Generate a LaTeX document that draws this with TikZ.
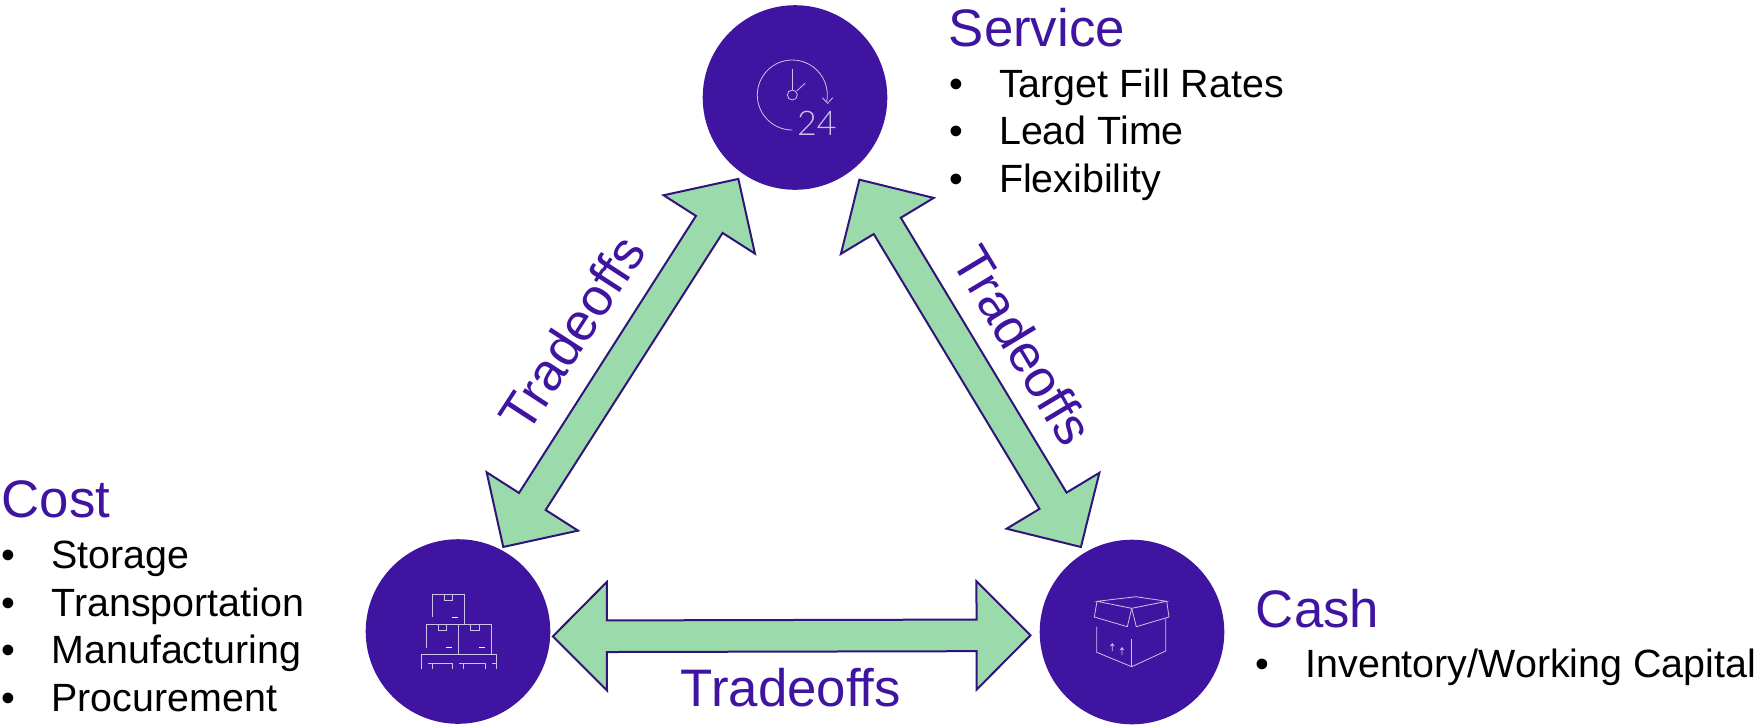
\documentclass[tikz,border=0pt]{standalone}
\usepackage{fontspec}
\setmainfont{Liberation Sans}
\newfontfamily\iconfont{Lato Light}
\usetikzlibrary{calc}
\definecolor{triadPurple}{RGB}{63, 20, 160}
\definecolor{triadEdge}{RGB}{48, 20, 122}
\definecolor{triadGreen}{RGB}{155, 219, 171}
\definecolor{iconLine}{RGB}{205, 195, 232}

\begin{document}
\begin{tikzpicture}[
                x=1pt, y=-1pt,
                disc/.style={circle, fill=triadPurple, minimum size=184.6pt, inner sep=0pt},
                head/.style={anchor=base west, inner sep=0pt, text=triadPurple, font=\fontsize{52.8}{60}\selectfont},
                items/.style={anchor=base west, inner sep=0pt, align=left, font=\fontsize{39.4}{47.5}\selectfont},
                tradelabel/.style={inner sep=0pt, text=triadPurple, font=\fontsize{52.8}{60}\selectfont},
                iconpen/.style={draw=iconLine, line width=0.8pt},
                tradeoff/.style 2 args={draw=triadEdge, fill=triadGreen, line width=2pt, line join=miter,
                    to path={
                        ($(\tikztostart)!#1!(\tikztotarget)$) coordinate (tipa)
                        ($(\tikztotarget)!#2!(\tikztostart)$) coordinate (tipb)
                        ($(tipa)!54pt!(tipb)$) coordinate (basea)
                        ($(tipb)!54pt!(tipa)$) coordinate (baseb)
                        (tipa) -- ($(basea)!54.2pt!90:(tipb)$) -- ($(basea)!15.8pt!90:(tipb)$)
                        -- ($(baseb)!15.8pt!-90:(tipa)$) -- ($(baseb)!54.2pt!-90:(tipa)$)
                        -- (tipb) -- ($(baseb)!54.2pt!90:(tipa)$) -- ($(baseb)!15.8pt!90:(tipa)$)
                        -- ($(basea)!15.8pt!-90:(tipb)$) -- ($(basea)!54.2pt!-90:(tipb)$) -- cycle
                    }}
            ]
                \useasboundingbox (0,0) rectangle (1758,724);

                \node[disc] (service) at (795,97.5) {};
                \node[disc] (cost) at (458,631.5) {};
                \node[disc] (cash) at (1132,632) {};

                \draw[tradeoff={3.4pt}{6.7pt}] (cost.62.6) to (service.235.6);
                \draw[tradeoff={6.7pt}{12pt}] (cash.121.2) to (service.309.6);
                \draw[tradeoff={2.5pt}{9pt}] (cost.357.2) to (cash.182.5);

                \node[tradelabel, rotate=57] (tradeLeft) at (571.7,333) {Tradeoffs};
                \node[tradelabel, rotate=-59] (tradeRight) at (1023.5,345.5) {Tradeoffs};
                \node[tradelabel, anchor=base] (tradeBottom) at (791,706) {Tradeoffs};

                \node[head] (serviceHead) at (948.6,46.5) {Service};
                \node[items] (serviceList) at (949,192) {\makebox[50pt][l]{•}Target Fill Rates\\\makebox[50pt][l]{•}Lead Time\\\makebox[50pt][l]{•}Flexibility};
                \node[head] (costHead) at (1.4,517.7) {Cost};
                \node[items] (costList) at (1.4,711) {\makebox[50pt][l]{•}Storage\\\makebox[50pt][l]{•}Transportation\\\makebox[50pt][l]{•}Manufacturing\\\makebox[50pt][l]{•}Procurement};
                \node[head] (cashHead) at (1255.7,627.3) {Cash};
                \node[items] (cashList) at (1255.4,677.7) {\makebox[50pt][l]{•}Inventory/Working Capital};

                % clock
                \draw[iconpen] (792.3,130) arc[start angle=270, end angle=-10, radius=35pt];
                \draw[iconpen] (792.3,95) circle[radius=5pt];
                \draw[iconpen] (792.3,90) -- (792.3,69.3);
                \draw[iconpen] (797,90.7) -- (805,83.3);
                \draw[iconpen] (822.3,97.7) -- (827.7,103.3) -- (832.7,97.7);
                \node[anchor=base west, inner sep=0pt, text=iconLine, font=\iconfont\fontsize{34}{40}\selectfont] (clockText) at (797,135) {24};

                % boxes on a pallet
                \draw[iconpen] (432,617.3) -- (432,594.3) -- (464.7,594.3) -- (464.7,624.3);
                \draw[iconpen] (444.3,594.3) -- (444.3,600.3) -- (452.3,600.3) -- (452.3,594.3);
                \draw[iconpen] (426,647.7) -- (426,624.3) -- (491.3,624.3) -- (491.3,654.3);
                \draw[iconpen] (458.7,624.3) -- (458.7,654.3);
                \draw[iconpen] (438,624.3) -- (438,630.3) -- (446.7,630.3) -- (446.7,624.3);
                \draw[iconpen] (470.3,624.3) -- (470.3,630.3) -- (479,630.3) -- (479,624.3);
                \draw[iconpen] (421.3,669.3) -- (421.3,654.3) -- (496,654.3) -- (496,669.3);
                \draw[iconpen] (428.3,663) -- (452.7,663) -- (452.7,669.3);
                \draw[iconpen] (432,663) -- (432,669.3);
                \draw[iconpen] (459.3,663) -- (485.7,663) -- (485.7,669.3);
                \draw[iconpen] (463.7,663) -- (463.7,669.3);
                \draw[iconpen] (492,663) -- (496,663);
                \draw[white, line width=0.9pt] (452,617.3) -- (458,617.3);
                \draw[white, line width=0.9pt] (446,647.3) -- (452,647.3);
                \draw[white, line width=0.9pt] (479,647.3) -- (485,647.3);

                % open carton
                \draw[iconpen] (1097,601.3) -- (1136,596.7) -- (1166.7,601.3) -- (1131.7,608.3) -- cycle;
                \draw[iconpen] (1097,601.3) -- (1094.3,617) -- (1127.3,626.7) -- (1131.7,608.3);
                \draw[iconpen] (1166.7,601.3) -- (1169,617) -- (1136.3,626.7) -- (1131.7,608.3);
                \draw[iconpen] (1096.7,626.7) -- (1096.7,652.3) -- (1131.7,666.7) -- (1165.7,651) -- (1165.7,619);
                \draw[iconpen] (1131.7,639) -- (1131.7,666.7);
                \draw[iconpen] (1112.3,651) -- (1112.3,643.7) (1110.5,646) -- (1112.3,643.7) -- (1114.1,646);
                \draw[iconpen] (1122,655) -- (1122,647.7) (1120.2,650) -- (1122,647.7) -- (1123.8,650);
            \end{tikzpicture}
\end{document}
